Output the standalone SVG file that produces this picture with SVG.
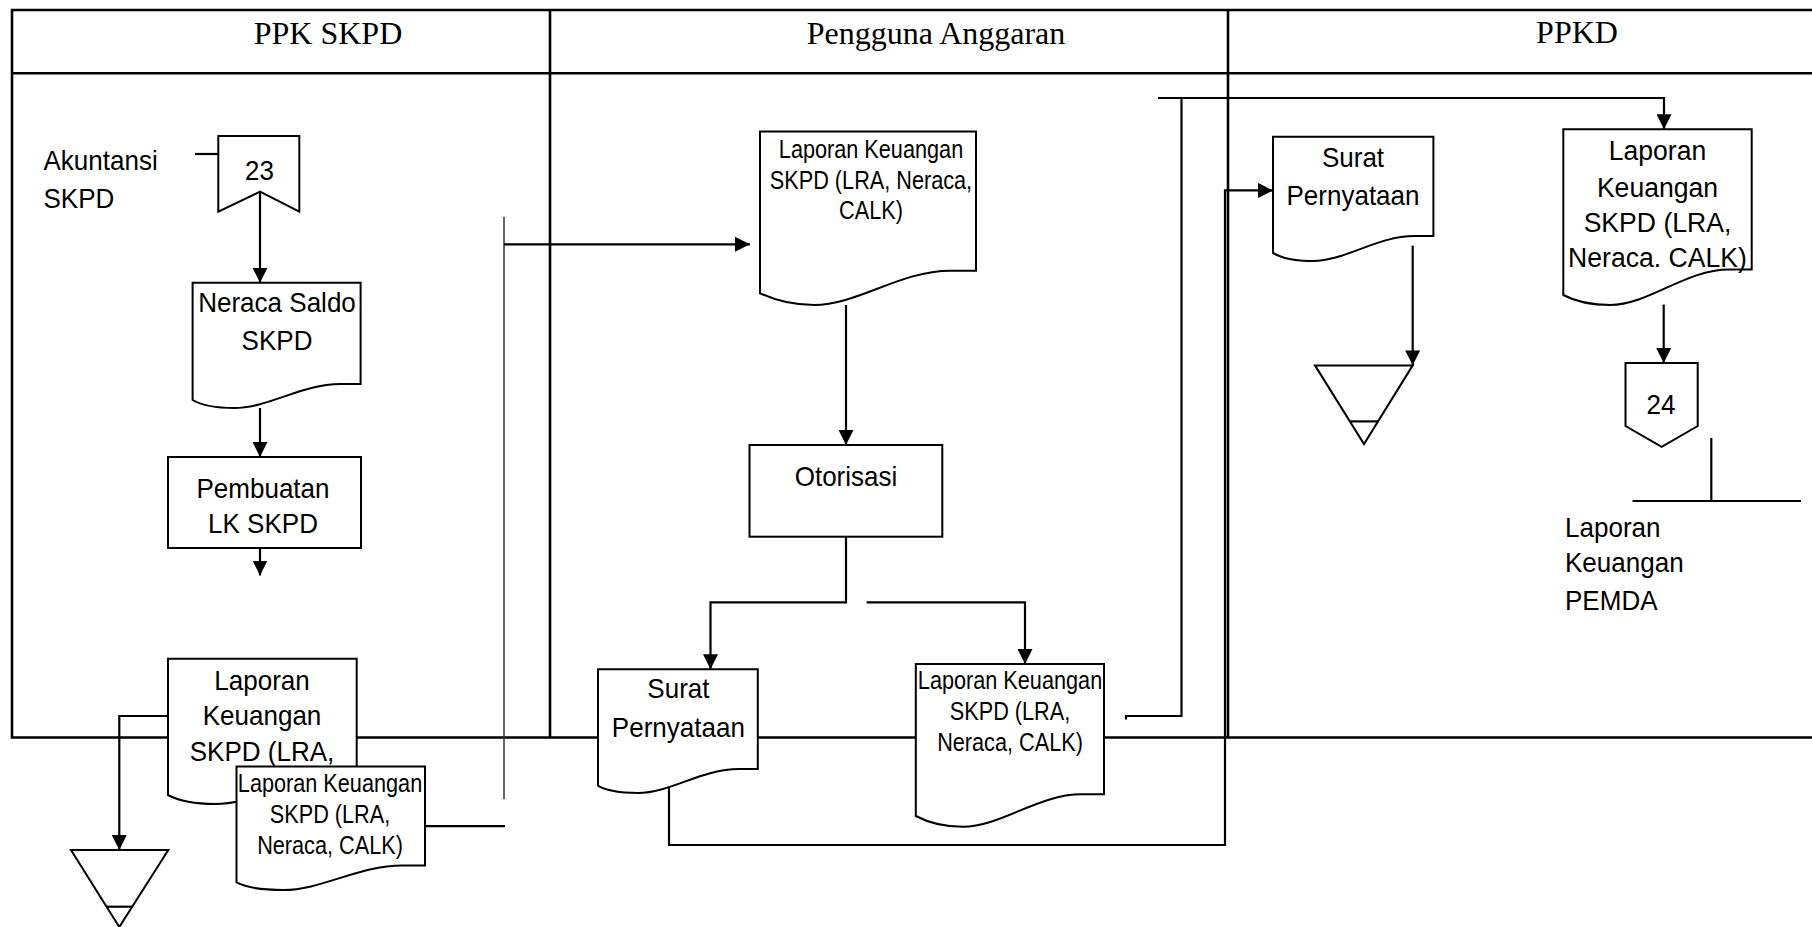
<svg xmlns="http://www.w3.org/2000/svg" width="1812" height="927" viewBox="0 0 1812 927">
<style>
.tbl{stroke:#000;stroke-width:2.6;fill:none}
.ln{stroke:#000;stroke-width:2.2;fill:none}
.thin{stroke:#333;stroke-width:1.5;fill:none}
.shape{stroke:#000;stroke-width:2;fill:#fff}
.hd{font-family:"Liberation Serif","Times New Roman",serif;font-size:32px;fill:#000;text-anchor:middle}
.t{font-family:"Liberation Sans",Arial,sans-serif;font-size:28px;fill:#000;text-anchor:middle}
.tl{font-family:"Liberation Sans",Arial,sans-serif;font-size:28px;fill:#000}
.sm{font-family:"Liberation Sans",Arial,sans-serif;font-size:25.5px;fill:#000;text-anchor:middle}
</style>
<defs>
<marker id="arr" markerUnits="userSpaceOnUse" markerWidth="15" markerHeight="15" refX="15" refY="7.5" orient="auto">
<path d="M0,0 L15,7.5 L0,15 Z" fill="#000"/>
</marker>
</defs>
<rect width="1812" height="927" fill="#fff"/>

<g id="table">
<path class="tbl" d="M1812,10 H12 V737.5 H1812 M12,73.3 H1812 M550,10 V737.5 M1228,10 V737.5"/>
<text class="hd" x="328" y="43.5">PPK SKPD</text>
<text class="hd" x="936" y="43.5">Pengguna Anggaran</text>
<text class="hd" x="1577" y="43">PPKD</text>
</g>

<g id="connectors">
<path class="ln" d="M195,154 H218.3"/>
<path class="ln" d="M260,191.7 V282.7" marker-end="url(#arr)"/>
<path class="ln" d="M260,408 V457" marker-end="url(#arr)"/>
<path class="ln" d="M260,548 V575.5" marker-end="url(#arr)"/>
<path class="ln" d="M168,716 H119.3 V850" marker-end="url(#arr)"/>
<path class="ln" d="M425,826.2 H505"/>
<path class="thin" d="M504,216.7 V799.3"/>
<path class="ln" d="M504,244.3 H750" marker-end="url(#arr)"/>
<path class="ln" d="M846,305 V445" marker-end="url(#arr)"/>
<path class="ln" d="M846,536.7 V602.3 H710.5 V669.3" marker-end="url(#arr)"/>
<path class="ln" d="M866.6,602.3 H1025 V664" marker-end="url(#arr)"/>
<path class="ln" d="M669,786 V845 H1225 V190.4 H1273" marker-end="url(#arr)"/>
<path class="ln" d="M1126,719.5 V716 H1181.5 V98"/>
<path class="ln" d="M1158,98 H1664 V129.3" marker-end="url(#arr)"/>
<path class="ln" d="M1412.7,245.7 V365.4" marker-end="url(#arr)"/>
<path class="ln" d="M1663.7,304.6 V363" marker-end="url(#arr)"/>
<path class="ln" d="M1711.3,437.9 V501 M1632.5,501 H1801"/>
</g>

<g id="akuntansi-skpd">
<text class="tl" transform="translate(43.5,170) scale(0.93,1)"><tspan x="0" y="0">Akuntansi</tspan><tspan x="0" y="38.3">SKPD</tspan></text>
</g>

<g id="conn-23">
<polygon class="shape" points="218.3,136 299.3,136 299.3,211.7 260,191.7 218.3,211.7"/>
<text class="t" transform="translate(259.5,180) scale(0.93,1)">23</text>
</g>

<g id="neraca-saldo">
<path class="shape" d="M192.6,282.7 H360.6 V384 L340.4,384 C301.8,384 268.2,408 234.6,408 C212.8,408 199.3,404 192.6,400 Z"/>
<text class="t" transform="translate(277,311.7) scale(0.93,1)"><tspan x="0" y="0">Neraca Saldo</tspan><tspan x="0" y="38.3">SKPD</tspan></text>
</g>

<g id="pembuatan-lk">
<rect class="shape" x="168" y="457" width="193" height="91"/>
<text class="t" transform="translate(263,497.5) scale(0.93,1)"><tspan x="0" y="0">Pembuatan</tspan><tspan x="0" y="35.9">LK SKPD</tspan></text>
</g>

<g id="lk-skpd-1">
<path class="shape" d="M168,658.8 H356.7 V778 L334.1,778 C290.7,778 252.9,804 215.2,804 C190.6,804 175.5,799 168,795 Z"/>
<text class="t" transform="translate(262,689.7) scale(0.93,1)"><tspan x="0" y="0">Laporan</tspan><tspan x="0" y="35.7">Keuangan</tspan><tspan x="0" y="71.6">SKPD (LRA,</tspan></text>
</g>

<g id="lk-skpd-2">
<path class="shape" d="M236.5,766.5 H425 V865.5 L402.4,865.5 C359,865.5 321.3,890 283.6,890 C259.1,890 244,886.4 236.5,882.4 Z"/>
<text class="sm" transform="translate(330,791.6) scale(0.85,1)"><tspan x="0" y="0">Laporan Keuangan</tspan><tspan x="0" y="31.3">SKPD (LRA,</tspan><tspan x="0" y="62.2">Neraca, CALK)</tspan></text>
</g>

<g id="file-1">
<polygon class="shape" points="71,850 168.3,850 119.3,927"/>
<path class="ln" d="M106.5,906.7 H132"/>
</g>

<g id="lk-skpd-pa">
<path class="shape" d="M760,131.5 H976 V270.7 L950.1,270.7 C900.4,270.7 857.2,305 814,305 C785.9,305 768.6,297.3 760,293.3 Z"/>
<text class="sm" transform="translate(871,158.3) scale(0.85,1)"><tspan x="0" y="0">Laporan Keuangan</tspan><tspan x="0" y="30.3">SKPD (LRA, Neraca,</tspan><tspan x="0" y="60.7">CALK)</tspan></text>
</g>

<g id="otorisasi">
<rect class="shape" x="749.5" y="445" width="192.8" height="91.7"/>
<text class="t" transform="translate(846,485.7) scale(0.93,1)">Otorisasi</text>
</g>

<g id="surat-pernyataan-pa">
<path class="shape" d="M598,669.3 H757.8 V769 L738.6,769 C701.9,769 669.9,793 638,793 C617.2,793 604.4,789.7 598,785.7 Z"/>
<text class="t" transform="translate(678.4,698.3) scale(0.93,1)"><tspan x="0" y="0">Surat</tspan><tspan x="0" y="38.4">Pernyataan</tspan></text>
</g>

<g id="lk-skpd-pa-2">
<path class="shape" d="M915.8,664 H1104 V794.3 L1081.4,794.3 C1038.1,794.3 1000.5,826.7 962.9,826.7 C938.4,826.7 923.3,820 915.8,816 Z"/>
<text class="sm" transform="translate(1010,689.3) scale(0.85,1)"><tspan x="0" y="0">Laporan Keuangan</tspan><tspan x="0" y="30.7">SKPD (LRA,</tspan><tspan x="0" y="61.4">Neraca, CALK)</tspan></text>
</g>

<g id="surat-pernyataan-ppkd">
<path class="shape" d="M1273,136.8 H1433.4 V236 L1414.2,236 C1377.3,236 1345.2,261 1313.1,261 C1292.2,261 1279.4,256.9 1273,252.9 Z"/>
<text class="t" transform="translate(1353,167) scale(0.93,1)"><tspan x="0" y="0">Surat</tspan><tspan x="0" y="37.6">Pernyataan</tspan></text>
</g>

<g id="file-2">
<polygon class="shape" points="1315,365.4 1412.7,365.4 1364,444"/>
<path class="ln" d="M1350,421.4 H1377.6"/>
</g>

<g id="lk-skpd-ppkd">
<path class="shape" d="M1563.3,129.3 H1751.7 V269.5 L1729.1,269.5 C1685.8,269.5 1648.1,305 1610.4,305 C1585.9,305 1570.8,299 1563.3,295 Z"/>
<text class="t" transform="translate(1657.5,160) scale(0.95,1)"><tspan x="0" y="0">Laporan</tspan><tspan x="0" y="36.7">Keuangan</tspan><tspan x="0" y="71.7">SKPD (LRA,</tspan><tspan x="0" y="106.7">Neraca. CALK)</tspan></text>
</g>

<g id="conn-24">
<polygon class="shape" points="1625.5,363 1697.7,363 1697.7,426 1661.7,446.8 1625.5,426"/>
<text class="t" transform="translate(1661,413.6) scale(0.93,1)">24</text>
</g>

<g id="lk-pemda">
<text class="tl" transform="translate(1565,536.8) scale(0.93,1)"><tspan x="0" y="0">Laporan</tspan><tspan x="0" y="35.7">Keuangan</tspan><tspan x="0" y="73.2">PEMDA</tspan></text>
</g>
</svg>
